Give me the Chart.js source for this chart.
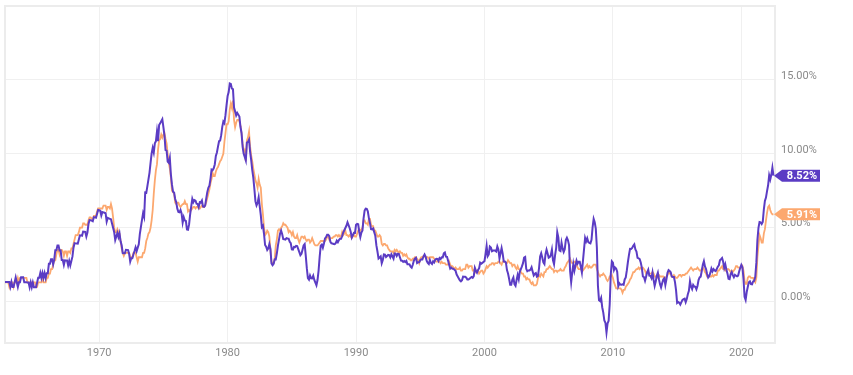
<!DOCTYPE html>
<html lang="en">
<head>
    <meta charset="UTF-8">
    <title>CPI vs Core CPI</title>
    <script src="https://cdn.jsdelivr.net/npm/chart.js"></script>
    <style>
        html, body { margin: 0; padding: 0; background: #fff; }
        #wrap { width: 853px; height: 375px; }
    </style>
</head>
<body>
    <div id="wrap"><canvas id="inflationChart" width="853" height="375"></canvas></div>

    <script>
        // first month of data: September 1962, monthly after that
        const startYear = 1962;
        const startMonth = 9;

        // headline CPI, year over year %
        const cpiValues = [
            1.33, 1.33, 1.33, 1.33,
            1.33, 1.00, 1.33, 0.99, 0.99, 1.32, 1.64, 1.31, 0.99, 1.31, 1.31, 1.64,
            1.64, 1.64, 1.31, 1.31, 1.31, 1.30, 1.30, 0.97, 1.30, 0.97, 1.29, 0.97,
            0.97, 0.97, 1.29, 1.62, 1.62, 1.94, 1.61, 1.94, 1.61, 1.93, 1.60, 1.92,
            1.92, 2.56, 2.56, 2.87, 2.87, 2.53, 2.85, 3.48, 3.48, 3.79, 3.79, 3.46,
            3.46, 2.81, 2.81, 2.48, 2.79, 2.78, 2.78, 2.45, 2.76, 2.45, 2.75, 3.04,
            3.65, 3.95, 3.94, 3.93, 3.92, 4.20, 4.49, 4.48, 4.46, 4.74, 4.73, 4.72,
            4.40, 4.68, 5.25, 5.52, 5.51, 5.48, 5.44, 5.71, 5.70, 5.68, 5.93, 6.20,
            6.18, 6.15, 5.82, 6.06, 6.04, 6.01, 5.98, 5.41, 5.66, 5.63, 5.60, 5.57,
            5.29, 5.00, 4.71, 4.16, 4.40, 4.64, 4.36, 4.62, 4.08, 3.81, 3.28, 3.27,
            3.27, 3.51, 3.50, 3.49, 3.23, 2.71, 2.95, 2.94, 3.19, 3.42, 3.67, 3.41,
            3.65, 3.87, 4.59, 5.06, 5.53, 5.98, 5.73, 7.38, 7.36, 7.80, 8.25, 8.71,
            9.39, 10.02, 10.39, 10.09, 10.71, 10.86, 11.51, 10.86, 11.95, 12.06, 12.20, 12.34,
            11.80, 11.23, 10.25, 10.21, 9.47, 9.39, 9.72, 8.60, 7.91, 7.44, 7.38, 6.94,
            6.72, 6.29, 6.07, 6.05, 6.20, 5.97, 5.35, 5.71, 5.49, 5.46, 4.88, 4.86,
            5.22, 5.91, 6.44, 6.95, 6.73, 6.87, 6.83, 6.62, 6.60, 6.39, 6.72, 6.70,
            6.84, 6.43, 6.41, 6.50, 6.97, 7.41, 7.70, 7.84, 8.31, 8.93, 8.89, 9.02,
            9.28, 9.86, 10.09, 10.49, 10.85, 10.89, 11.26, 11.82, 12.18, 12.07, 12.61, 13.29,
            13.91, 14.18, 14.76, 14.73, 14.41, 14.38, 13.13, 12.87, 12.60, 12.77, 12.65, 12.52,
            11.83, 11.41, 10.49, 10.00, 9.78, 9.55, 10.76, 10.80, 10.95, 10.14, 9.59, 8.92,
            8.39, 7.62, 6.78, 6.51, 6.68, 7.06, 6.44, 5.85, 5.04, 5.14, 4.59, 3.83,
            3.71, 3.49, 3.60, 3.90, 3.55, 2.58, 2.46, 2.56, 2.86, 2.85, 3.27, 3.79,
            4.19, 4.60, 4.80, 4.56, 4.23, 4.22, 4.20, 4.29, 4.27, 4.26, 4.05, 3.95,
            3.53, 3.52, 3.70, 3.69, 3.77, 3.76, 3.55, 3.35, 3.14, 3.23, 3.51, 3.80,
            3.89, 3.11, 2.26, 1.59, 1.49, 1.77, 1.58, 1.57, 1.75, 1.47, 1.28, 1.10,
            1.46, 2.10, 3.03, 3.78, 3.86, 3.65, 3.93, 4.28, 4.36, 4.53, 4.53, 4.43,
            4.05, 3.94, 3.93, 3.90, 3.89, 3.96, 4.13, 4.02, 4.17, 4.25, 4.25, 4.42,
            4.67, 4.83, 4.98, 5.13, 5.36, 5.17, 4.98, 4.72, 4.34, 4.49, 4.66, 4.65,
            5.20, 5.26, 5.23, 4.71, 4.36, 4.67, 4.82, 5.62, 6.16, 6.29, 6.27, 6.11,
            5.65, 5.31, 4.90, 4.89, 4.95, 4.70, 4.45, 3.80, 3.39, 2.92, 2.99, 3.06,
            2.60, 2.82, 3.19, 3.18, 3.02, 3.09, 3.16, 3.15, 2.99, 3.20, 3.05, 2.90,
            3.26, 3.25, 3.09, 3.23, 3.22, 3.00, 2.78, 2.77, 2.69, 2.75, 2.68, 2.75,
            2.52, 2.52, 2.51, 2.36, 2.29, 2.49, 2.77, 2.90, 2.96, 2.61, 2.67, 2.67,
            2.80, 2.86, 2.85, 3.05, 3.19, 3.04, 2.76, 2.62, 2.54, 2.81, 2.61, 2.54,
            2.73, 2.65, 2.84, 2.90, 2.89, 2.75, 2.95, 2.88, 3.00, 2.99, 3.26, 3.32,
            3.04, 3.03, 2.76, 2.50, 2.23, 2.30, 2.23, 2.23, 2.15, 2.08, 1.83, 1.70,
            1.57, 1.44, 1.37, 1.44, 1.69, 1.68, 1.68, 1.62, 1.49, 1.49, 1.55, 1.61,
            1.67, 1.61, 1.73, 2.28, 2.09, 1.96, 2.14, 2.26, 2.63, 2.56, 2.62, 2.68,
            2.74, 3.22, 3.76, 3.07, 3.19, 3.73, 3.66, 3.41, 3.45, 3.45, 3.45, 3.39,
            3.73, 3.53, 2.92, 3.27, 3.62, 3.25, 2.72, 2.72, 2.65, 2.13, 1.90, 1.55,
            1.14, 1.14, 1.48, 1.64, 1.18, 1.07, 1.46, 1.80, 1.51, 2.03, 2.20, 2.38,
            2.60, 2.98, 3.02, 2.22, 2.06, 2.11, 2.11, 2.16, 2.32, 2.04, 1.77, 1.88,
            1.93, 1.69, 1.74, 2.29, 3.05, 3.27, 2.99, 2.65, 2.54, 3.19, 3.52, 3.26,
            2.97, 3.01, 3.15, 3.51, 2.80, 2.53, 3.17, 3.64, 4.69, 4.35, 3.46, 3.42,
            3.99, 3.60, 3.36, 3.55, 4.17, 4.32, 4.15, 3.82, 2.06, 1.31, 1.97, 2.54,
            2.08, 2.42, 2.78, 2.57, 2.69, 2.69, 2.36, 1.97, 2.76, 3.54, 4.31, 4.08,
            4.28, 4.03, 3.98, 3.94, 4.18, 5.02, 5.60, 5.37, 4.94, 3.66, 1.07, 0.09,
            0.03, 0.24, -0.38, -0.74, -1.28, -1.43, -2.10, -1.48, -1.29, -0.18, 1.84, 2.72,
            2.63, 2.14, 2.31, 2.24, 2.02, 1.05, 1.24, 1.15, 1.14, 1.17, 1.14, 1.50,
            1.63, 2.11, 2.68, 3.16, 3.57, 3.56, 3.63, 3.77, 3.87, 3.53, 3.39, 2.96,
            2.93, 2.87, 2.65, 2.30, 1.70, 1.66, 1.41, 1.69, 1.99, 2.16, 1.76, 1.74,
            1.59, 1.98, 1.47, 1.06, 1.36, 1.75, 1.96, 1.52, 1.18, 0.96, 1.24, 1.50,
            1.58, 1.13, 1.51, 1.95, 2.13, 2.07, 1.99, 1.70, 1.66, 1.66, 1.32, 0.76,
            -0.09, -0.03, -0.07, -0.20, -0.04, 0.12, 0.17, 0.20, -0.04, 0.17, 0.50, 0.73,
            1.37, 1.02, 0.85, 1.13, 1.02, 1.01, 0.83, 1.06, 1.46, 1.64, 1.69, 2.07,
            2.50, 2.74, 2.38, 2.20, 1.87, 1.63, 1.73, 1.94, 2.23, 2.04, 2.20, 2.11,
            2.07, 2.21, 2.36, 2.46, 2.80, 2.87, 2.95, 2.70, 2.28, 2.52, 2.18, 1.91,
            1.55, 1.52, 1.86, 2.00, 1.79, 1.65, 1.81, 1.75, 1.71, 1.76, 2.05, 2.29,
            2.49, 2.33, 1.54, 0.33, 0.12, 0.65, 0.99, 1.31, 1.37, 1.18, 1.17, 1.36,
            1.40, 1.68, 2.62, 4.16, 4.99, 5.39, 5.37, 5.25, 5.39, 6.22, 6.81, 7.04,
            7.48, 7.87, 8.54, 8.26, 8.58, 9.06, 8.52
        ];

        // core CPI (less food and energy), year over year %
        const coreValues = [
            1.3, 1.3, 1.3, 1.3,
            1.0, 1.3, 1.3, 1.3, 1.0, 1.3, 1.3, 1.3, 1.6, 1.3, 1.6, 1.6,
            1.6, 1.6, 1.6, 1.6, 1.6, 1.3, 1.3, 1.3, 1.3, 1.3, 1.3, 1.3,
            1.3, 1.0, 1.0, 1.3, 1.3, 1.3, 1.3, 1.6, 1.3, 1.3, 1.3, 1.6,
            1.6, 1.9, 1.9, 2.2, 2.2, 2.5, 2.8, 2.8, 3.2, 3.5, 3.5, 3.2,
            3.5, 3.5, 3.4, 3.1, 3.4, 3.4, 3.1, 3.4, 3.4, 3.3, 3.6, 3.6,
            3.9, 4.2, 4.5, 4.5, 4.5, 4.7, 5.0, 5.0, 5.0, 5.3, 5.3, 5.2,
            5.2, 5.2, 5.5, 5.7, 5.7, 5.6, 5.6, 5.8, 5.8, 5.8, 6.1, 6.3,
            6.3, 6.3, 6.3, 6.3, 6.5, 6.5, 6.5, 6.2, 6.4, 6.4, 6.3, 6.6,
            6.3, 5.7, 5.0, 4.7, 4.7, 4.9, 4.7, 4.6, 4.1, 3.6, 3.3, 3.1,
            3.3, 3.3, 3.3, 3.3, 3.3, 3.0, 3.0, 3.0, 3.3, 3.3, 3.3, 3.0,
            2.7, 3.0, 3.0, 3.0, 3.0, 3.3, 3.3, 3.6, 4.1, 4.3, 4.6, 4.7,
            5.0, 5.5, 6.2, 7.3, 8.2, 8.9, 9.3, 10.3, 10.9, 11.0, 11.3, 11.1,
            11.3, 11.4, 11.0, 10.7, 10.0, 9.4, 9.0, 8.4, 7.5, 7.4, 7.3, 6.7,
            6.6, 6.7, 6.7, 6.5, 6.4, 6.5, 6.6, 6.6, 6.8, 6.6, 6.6, 6.1,
            6.2, 6.1, 6.2, 6.3, 6.4, 6.4, 6.3, 6.4, 6.4, 6.3, 6.3, 6.4,
            6.5, 6.4, 6.4, 6.5, 6.7, 7.0, 7.3, 7.6, 8.0, 8.3, 8.7, 8.5,
            8.5, 8.8, 9.0, 9.1, 9.3, 9.5, 9.6, 9.8, 10.0, 10.8, 11.4, 12.0,
            12.0, 12.2, 13.0, 13.4, 13.1, 13.6, 12.3, 11.8, 12.1, 12.3, 12.3, 12.2,
            11.9, 11.4, 10.7, 10.3, 10.3, 9.5, 10.9, 11.1, 11.5, 10.5, 9.9, 9.5,
            9.0, 8.6, 8.2, 8.0, 7.7, 8.3, 7.9, 7.7, 6.6, 5.9, 5.0, 4.5,
            4.6, 4.8, 4.7, 4.4, 3.5, 2.7, 2.6, 2.6, 2.9, 3.8, 4.2, 4.8,
            4.9, 4.8, 5.0, 5.1, 5.3, 5.2, 5.2, 5.1, 5.0, 4.7, 4.8, 4.7,
            4.5, 4.7, 4.4, 4.3, 4.3, 4.5, 4.2, 4.0, 4.2, 4.4, 4.4, 4.3,
            4.4, 4.2, 4.1, 4.2, 4.2, 4.0, 4.1, 4.3, 4.1, 3.9, 3.8, 3.8,
            3.8, 3.9, 4.0, 4.1, 4.1, 4.1, 4.1, 4.1, 4.2, 4.4, 4.4, 4.2,
            4.3, 4.3, 4.3, 4.4, 4.4, 4.5, 4.5, 4.4, 4.5, 4.4, 4.4, 4.7,
            4.5, 4.6, 4.8, 4.5, 4.5, 4.4, 4.5, 4.4, 4.3, 4.4, 4.5, 4.4,
            4.4, 4.6, 4.8, 4.9, 4.8, 4.9, 5.0, 5.5, 5.5, 5.3, 5.3, 5.2,
            5.6, 5.6, 5.2, 5.1, 5.1, 4.8, 4.8, 4.6, 4.4, 4.4, 4.5, 4.4,
            3.9, 3.8, 3.9, 3.9, 3.8, 3.8, 3.6, 3.5, 3.4, 3.4, 3.4, 3.3,
            3.5, 3.4, 3.5, 3.4, 3.3, 3.4, 3.3, 3.3, 3.1, 3.2, 3.1, 3.2,
            3.0, 2.9, 2.9, 2.8, 2.8, 2.9, 2.9, 3.0, 3.0, 2.9, 2.8, 2.6,
            2.9, 3.0, 3.0, 3.1, 3.1, 3.0, 3.0, 3.0, 2.9, 3.0, 3.0, 3.0,
            3.0, 2.9, 2.8, 2.7, 2.7, 2.7, 2.7, 2.6, 2.7, 2.6, 2.6, 2.6,
            2.5, 2.5, 2.5, 2.7, 2.5, 2.4, 2.4, 2.3, 2.2, 2.3, 2.2, 2.2,
            2.2, 2.3, 2.1, 2.1, 2.2, 2.2, 2.2, 2.5, 2.5, 2.3, 2.4, 2.4,
            2.4, 2.1, 2.1, 2.2, 2.0, 2.1, 2.1, 1.9, 2.0, 2.1, 2.1, 1.9,
            2.0, 2.2, 2.4, 2.3, 2.4, 2.5, 2.5, 2.6, 2.6, 2.5, 2.6, 2.6,
            2.6, 2.7, 2.7, 2.6, 2.5, 2.7, 2.7, 2.7, 2.6, 2.6, 2.8, 2.7,
            2.6, 2.6, 2.4, 2.5, 2.5, 2.3, 2.2, 2.4, 2.2, 2.2, 2.0, 1.9,
            1.9, 1.7, 1.7, 1.5, 1.6, 1.5, 1.5, 1.3, 1.2, 1.3, 1.1, 1.1,
            1.1, 1.2, 1.6, 1.8, 1.7, 1.9, 1.8, 1.7, 2.0, 2.0, 2.2, 2.2,
            2.3, 2.4, 2.3, 2.2, 2.2, 2.0, 2.1, 2.1, 2.0, 2.1, 2.1, 2.2,
            2.1, 2.1, 2.1, 2.3, 2.4, 2.6, 2.7, 2.8, 2.9, 2.7, 2.6, 2.6,
            2.7, 2.7, 2.5, 2.3, 2.2, 2.2, 2.2, 2.1, 2.1, 2.2, 2.3, 2.4,
            2.5, 2.3, 2.4, 2.3, 2.3, 2.4, 2.5, 2.5, 2.5, 2.2, 2.0, 1.8,
            1.7, 1.8, 1.8, 1.9, 1.8, 1.7, 1.5, 1.4, 1.5, 1.7, 1.7, 1.8,
            1.6, 1.3, 1.1, 0.9, 0.9, 0.9, 0.9, 0.9, 0.8, 0.6, 0.8, 0.8,
            1.0, 1.1, 1.2, 1.3, 1.5, 1.6, 1.8, 2.0, 2.0, 2.1, 2.2, 2.2,
            2.3, 2.2, 2.3, 2.3, 2.3, 2.2, 2.1, 1.9, 2.0, 2.0, 1.9, 1.9,
            1.9, 2.0, 1.9, 1.7, 1.7, 1.6, 1.7, 1.8, 1.7, 1.7, 1.7, 1.7,
            1.6, 1.6, 1.7, 1.8, 2.0, 1.9, 1.9, 1.7, 1.7, 1.8, 1.7, 1.6,
            1.6, 1.7, 1.8, 1.8, 1.7, 1.8, 1.8, 1.8, 1.9, 1.9, 2.0, 2.1,
            2.2, 2.3, 2.2, 2.1, 2.2, 2.2, 2.2, 2.3, 2.2, 2.1, 2.1, 2.2,
            2.3, 2.2, 2.0, 1.9, 1.7, 1.7, 1.7, 1.7, 1.7, 1.8, 1.7, 1.8,
            1.8, 1.8, 2.1, 2.1, 2.2, 2.3, 2.4, 2.2, 2.2, 2.1, 2.2, 2.2,
            2.2, 2.1, 2.0, 2.1, 2.0, 2.1, 2.2, 2.4, 2.4, 2.3, 2.3, 2.3,
            2.3, 2.4, 2.1, 1.4, 1.2, 1.2, 1.6, 1.7, 1.7, 1.6, 1.6, 1.6,
            1.4, 1.3, 1.6, 3.0, 3.8, 4.5, 4.3, 4.0, 4.0, 4.6, 4.9, 5.5,
            6.0, 6.4, 6.5, 6.2, 6.0, 5.9, 5.91
        ];

        const xTickYears = [1970, 1980, 1990, 2000, 2010, 2020];
        const yTickValues = [0, 5, 10, 15];

        const purple = '#5b3cc4';
        const orange = '#fca86f';

        // month index -> fractional year
        function toPoints(values) {
            return values.map((v, i) => ({
                x: startYear + (startMonth - 1 + i) / 12,
                y: v
            }));
        }

        // light frame round the plot area
        const frame = {
            id: 'frame',
            beforeDatasetsDraw(chart) {
                const a = chart.chartArea;
                const c = chart.ctx;
                c.save();
                c.strokeStyle = '#ececec';
                c.lineWidth = 2;
                c.strokeRect(a.left, a.top, a.right - a.left, a.bottom - a.top);
                c.restore();
            }
        };

        // value tags at the end of each line
        const endTags = {
            id: 'endTags',
            afterDatasetsDraw(chart) {
                const c = chart.ctx;
                const yScale = chart.scales.y;
                const x0 = chart.chartArea.right;
                chart.data.datasets.forEach(ds => {
                    const last = ds.data[ds.data.length - 1].y;
                    const y = yScale.getPixelForValue(last);
                    const left = x0 + 7, right = x0 + 45, h = 12;
                    c.save();
                    c.fillStyle = ds.borderColor;
                    c.beginPath();
                    c.moveTo(x0 - 1, y);
                    c.lineTo(left, y - h / 2);
                    c.lineTo(right, y - h / 2);
                    c.lineTo(right, y + h / 2);
                    c.lineTo(left, y + h / 2);
                    c.closePath();
                    c.fill();
                    c.fillStyle = '#fff';
                    c.font = 'bold 11px Roboto';
                    c.textAlign = 'center';
                    c.textBaseline = 'middle';
                    c.fillText(last.toFixed(2) + '%', (left + right) / 2 + 1, y + 0.5);
                    c.restore();
                });
            }
        };

        const ctx = document.getElementById('inflationChart').getContext('2d');
        new Chart(ctx, {
            type: 'line',
            data: {
                datasets: [
                    {
                        label: 'CPI',
                        data: toPoints(cpiValues),
                        borderColor: purple,
                        borderWidth: 2,
                        pointRadius: 0,
                        tension: 0,
                        order: 1
                    },
                    {
                        label: 'Core CPI',
                        data: toPoints(coreValues),
                        borderColor: orange,
                        borderWidth: 1.8,
                        pointRadius: 0,
                        tension: 0,
                        order: 2
                    }
                ]
            },
            options: {
                responsive: false,
                animation: false,
                layout: { padding: { left: 5, top: 6, right: 0, bottom: 0 } },
                plugins: {
                    legend: { display: false },
                    tooltip: { enabled: false }
                },
                scales: {
                    x: {
                        type: 'linear',
                        min: startYear + (startMonth - 1) / 12,
                        max: 2022.62,
                        afterBuildTicks: axis => {
                            axis.ticks = xTickYears.map(v => ({ value: v }));
                        },
                        afterFit: axis => {
                            axis.height = 32;
                            axis.paddingLeft = 0;
                            axis.paddingRight = 0;
                        },
                        grid: { color: '#f0f0f0', drawTicks: false },
                        border: { display: false },
                        ticks: {
                            color: '#8a8a8a',
                            font: { family: 'Roboto', size: 11 },
                            padding: 4,
                            maxRotation: 0,
                            callback: v => String(v)
                        }
                    },
                    y: {
                        position: 'right',
                        min: -2.8,
                        max: 20,
                        afterBuildTicks: axis => {
                            axis.ticks = yTickValues.map(v => ({ value: v }));
                        },
                        afterFit: axis => {
                            axis.width = 78;
                            axis.paddingTop = 0;
                            axis.paddingBottom = 0;
                        },
                        grid: { color: '#f0f0f0', drawTicks: false },
                        border: { display: false },
                        ticks: {
                            color: '#8a8a8a',
                            font: { family: 'Roboto', size: 11 },
                            padding: 6,
                            labelOffset: -4,
                            callback: v => v.toFixed(2) + '%'
                        }
                    }
                }
            },
            plugins: [frame, endTags]
        });
    </script>
</body>
</html>
